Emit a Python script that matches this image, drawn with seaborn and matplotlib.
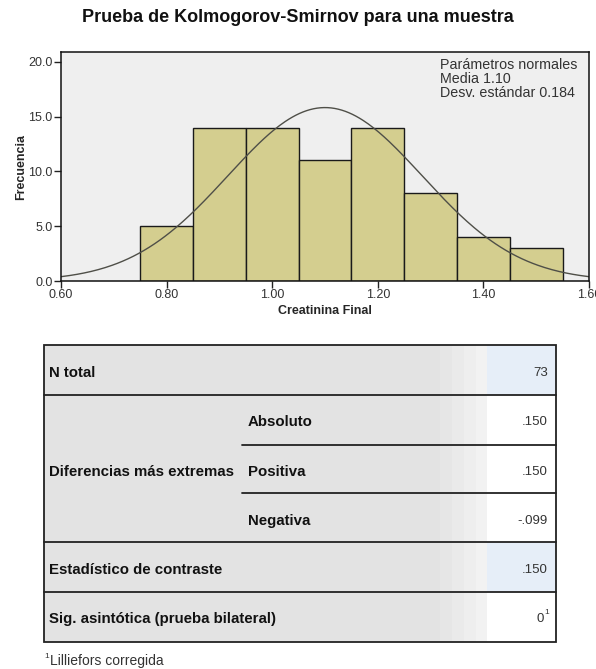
import numpy as np
import pandas as pd
import matplotlib
matplotlib.use('Agg')
import matplotlib.pyplot as plt
import seaborn as sns
from matplotlib.patches import Rectangle

# datos del histograma
bin_edges = [0.75, 0.85, 0.95, 1.05, 1.15, 1.25, 1.35, 1.45, 1.55]
bin_counts = [5, 14, 14, 11, 14, 8, 4, 3]
media = 1.10
desv = 0.184
n_total = 73

# tabla
row_labels = ['N total', 'Diferencias más extremas', 'Estadístico de contraste',
              'Sig. asintótica (prueba bilateral)']
sub_labels = ['Absoluto', 'Positiva', 'Negativa']
row_values = ['73', '.150', '.150', '-.099', '.150', '0']

sns.set_theme(style='white')
plt.rcParams['font.family'] = ['Liberation Sans', 'DejaVu Sans']

fig = plt.figure(figsize=(5.96, 6.69), dpi=100)
fig.patch.set_facecolor('white')

# ==========================================
# histograma
# ==========================================
ax = fig.add_axes([61 / 596, 1 - 281 / 669, 528 / 596, 229 / 669])
ax.set_facecolor('#efefef')

centros = [(a + b) / 2 for a, b in zip(bin_edges[:-1], bin_edges[1:])]
df = pd.DataFrame({'x': centros, 'n': bin_counts})
sns.histplot(data=df, x='x', weights='n', bins=bin_edges, ax=ax,
             color='#d4ce8f', edgecolor='#1a1a1a', linewidth=1.0, alpha=1)

# curva normal ajustada (N * ancho de clase * densidad)
xs = np.linspace(0.6, 1.6, 300)
ys = n_total * 0.1 * np.exp(-0.5 * ((xs - media) / desv) ** 2) / (desv * np.sqrt(2 * np.pi))
sns.lineplot(x=xs, y=ys, ax=ax, color='#4f4f48', linewidth=1.0)

ax.set_xlim(0.6, 1.6)
ax.set_ylim(0, 20.9)
ax.set_xticks([0.6, 0.8, 1.0, 1.2, 1.4, 1.6])
ax.set_xticklabels(['0.60', '0.80', '1.00', '1.20', '1.40', '1.60'])
ax.set_yticks([0, 5, 10, 15, 20])
ax.set_yticklabels(['0.0', '5.0', '10.0', '15.0', '20.0'])
ax.tick_params(axis='both', direction='out', length=5, width=1, color='#222',
               labelsize=9, labelcolor='#333', pad=1, left=True, bottom=True)
for s in ax.spines.values():
    s.set_color('#111')
    s.set_linewidth(1.1)
ax.set_xlabel('Creatinina Final', fontsize=9, fontweight='bold', labelpad=3)
ax.set_ylabel('Frecuencia', fontsize=9, fontweight='bold', labelpad=1)

ax.text(0.718, 0.975, 'Parámetros normales\nMedia 1.10\nDesv. estándar 0.184',
        transform=ax.transAxes, ha='left', va='top', fontsize=10.3,
        color='#333', linespacing=1.0)

fig.text(0.5, 1 - 18 / 669, 'Prueba de Kolmogorov-Smirnov para una muestra',
         ha='center', va='center', fontsize=13, fontweight='bold', color='#111')

# ==========================================
# tabla
# ==========================================
tb = fig.add_axes([0, 0, 1, 1 - 330 / 669])
tb.set_xlim(0, 596)
tb.set_ylim(669, 330)
tb.axis('off')

x0, x1, xv = 44, 556, 487

tb.add_patch(Rectangle((x0, 345), x1 - x0, 297, facecolor='#e3e3e3', edgecolor='none'))
# degradado hacia la columna de valores
for i, c in enumerate(['#e6e6e6', '#eaeaea', '#eeeeee', '#f2f2f2']):
    tb.add_patch(Rectangle((440 + i * 12, 345), 12, 297, facecolor=c, edgecolor='none'))
for ya, yb, c in [(345, 395, '#e6eef8'), (395, 542, '#ffffff'),
                  (542, 592, '#e6eef8'), (592, 642, '#ffffff')]:
    tb.add_patch(Rectangle((xv, ya), x1 - xv, yb - ya, facecolor=c, edgecolor='none'))

tb.add_patch(Rectangle((x0, 345), x1 - x0, 297, facecolor='none', edgecolor='#222', linewidth=1.3))
for y in [395, 542, 592]:
    tb.plot([x0, x1], [y, y], color='#222', linewidth=1.3)
for y in [445, 493]:
    tb.plot([242, x1], [y, y], color='#222', linewidth=1.3)

tfont = dict(fontsize=10.8, fontweight='bold', color='#111', va='center', ha='left')
tb.text(49, 373, row_labels[0], **tfont)
tb.text(49, 472, row_labels[1], **tfont)
tb.text(49, 570, row_labels[2], **tfont)
tb.text(49, 619, row_labels[3], **tfont)
for lab, y in zip(sub_labels, [422, 472, 521]):
    tb.text(248, y, lab, **tfont)

vfont = dict(fontsize=9.5, color='#333', va='center', ha='right')
for val, y in zip(row_values[:5], [373, 422, 472, 521, 570]):
    tb.text(548, y, val, **vfont)
tb.text(544, 619, row_values[5], **vfont)
tb.text(544.5, 613, '1', fontsize=6, color='#333', va='center', ha='left')

tb.text(44, 656, '1', fontsize=6, color='#333', va='center', ha='left')
tb.text(50, 661, 'Lilliefors corregida', fontsize=10, color='#333', va='center', ha='left')

fig.savefig('out.png', dpi=100)
